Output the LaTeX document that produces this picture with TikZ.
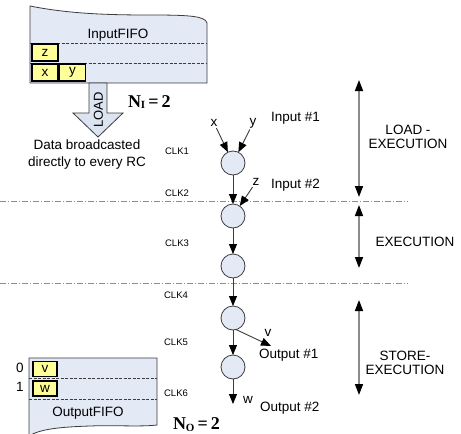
\documentclass[tikz,border=0pt]{standalone}
\usepackage{fontspec}
\setmainfont{Liberation Sans}
\newfontfamily\numfont{Liberation Serif}
\usetikzlibrary{arrows.meta}
\definecolor{fifofill}{HTML}{E3E9F5}
\definecolor{loadfill}{HTML}{DCE4F1}
\definecolor{cellfill}{HTML}{FFFF99}
\definecolor{wire}{HTML}{3C3C3C}
\definecolor{rulecol}{HTML}{8C8C8C}
\begin{document}
\begin{tikzpicture}[x=1pt,y=-1pt,
  every node/.style={inner sep=0pt, outer sep=0pt},
  txt/.style={font=\fontsize{13.5}{14}\selectfont},
  clk/.style={font=\fontsize{9.5}{10}\selectfont},
  lbl/.style={font=\fontsize{13.5}{14}\selectfont, outer sep=1.5pt},
  fifo/.style={draw=wire, fill=fifofill, line width=0.8pt},
  slot/.style={draw=wire, line width=0.6pt, dash pattern=on 3pt off 1.5pt},
  cell/.style={draw=black, fill=cellfill, line width=1.4pt, minimum width=24pt,
    minimum height=15pt, font=\fontsize{13.5}{14}\selectfont},
  rc/.style={circle, draw=wire, fill=fifofill, line width=0.8pt, minimum size=24pt},
  flow/.style={draw=wire, line width=0.9pt,
    -{Triangle[length=10pt,width=8pt,color=black]}},
  span/.style={draw=rulecol, line width=1.6pt,
    {Triangle[length=11pt,width=8pt,color=black]}-{Triangle[length=11pt,width=8pt,color=black]}},
  phase/.style={draw=rulecol, line width=0.8pt, dash pattern=on 6pt off 2pt on 1pt off 2pt},
  big/.style={font=\numfont\bfseries\fontsize{18}{18}\selectfont}
]
\useasboundingbox[fill=white] (0,0) rectangle (461,434);

% input FIFO
\path[fifo] (30,6) .. controls (70,14) and (110,15) .. (150,15)
  .. controls (190,15) and (205,16) .. (207,23) -- (207,83) -- (30,83) -- cycle;
\draw[slot] (30,43) -- (207,43);
\draw[slot] (30,63) -- (207,63);
\node[txt] (infifo) at (118,35) {InputFIFO};
\node[cell, minimum width=26pt, minimum height=17pt] (cz) at (45,52.5) {z};
\node[cell, minimum width=26pt, minimum height=17pt] (cx) at (45,72.5) {x};
\node[cell, minimum width=26pt, minimum height=17pt] (cy) at (72.5,72.5) {y};

% LOAD arrow
\path[fifo, fill=loadfill] (89,83) -- (107,83) -- (107,113) -- (123,113)
  -- (98,137) -- (73,113) -- (89,113) -- cycle;
\node[font=\fontsize{13}{13}\selectfont, rotate=90] (load) at (98.5,110) {LOAD};
\node[big, anchor=base west] (ni) at (128,107)
  {N\raisebox{-0.2ex}{\fontsize{11}{11}\selectfont I}\kern3pt=\kern3pt2};
\node[font=\fontsize{13.5}{17}\selectfont, align=center] (bcast) at (87,155)
  {Data broadcasted\\directly to every RC};

% output FIFO
\path[fifo] (29,358) -- (157,358) -- (157,425)
  .. controls (140,427) and (115,425) .. (90,426)
  .. controls (60,427) and (40,429) .. (29,436) -- cycle;
\draw[slot] (29,378) -- (157,378);
\draw[slot] (29,399) -- (157,399);
\node[txt] (outfifo) at (88,413) {OutputFIFO};
\node[cell] (cv) at (45,369) {v};
\node[cell] (cw) at (45,388.5) {w};
\node[txt] (i0) at (20,368) {0};
\node[txt] (i1) at (20,387) {1};
\node[big, anchor=base west] (no) at (173,429.5)
  {N\raisebox{-0.2ex}{\fontsize{11}{11}\selectfont O}\kern3pt=\kern3pt2};

% clock boundaries
\draw[phase] (0,201) -- (408,201);
\draw[phase] (0,283) -- (408,283);
\node[clk] (k1) at (177,151) {CLK1};
\node[clk] (k2) at (177,193) {CLK2};
\node[clk] (k3) at (177,243) {CLK3};
\node[clk] (k4) at (176,295) {CLK4};
\node[clk] (k5) at (176,342) {CLK5};
\node[clk] (k6) at (176,393) {CLK6};

% reconfigurable cells
\node[rc] (c1) at (233,163) {};
\node[rc] (c2) at (233,216) {};
\node[rc] (c3) at (233,266) {};
\node[rc] (c4) at (233,318) {};
\node[rc] (c5) at (233,367) {};

% operands and results
\node[lbl] (lx) at (214,123) {x};
\node[lbl] (ly) at (253,123) {y};
\node[lbl] (lz) at (256,182) {z};
\node[txt, anchor=west] (in1) at (271,118) {Input \#1};
\node[txt, anchor=west] (in2) at (271,185) {Input \#2};
\node[txt] (lv) at (268,333) {v};
\node[txt] (lw) at (248,400) {w};
\node[txt, anchor=west] (out1) at (259,355) {Output \#1};
\node[txt, anchor=west] (out2) at (260,408) {Output \#2};
\coordinate (vend) at (271,346);
\coordinate (wend) at (233,404);

\draw[flow] (lx) -- (c1);
\draw[flow] (ly) -- (c1);
\draw[flow] (lz) -- (c2);
\draw[flow] (c1) -- (c2);
\draw[flow] (c2) -- (c3);
\draw[flow] (c3) -- (c4);
\draw[flow] (c4) -- (c5);
\draw[flow] (c4.-75) -- (vend);
\draw[flow] (c5) -- (wend);

% phase spans
\coordinate (s1a) at (359,80);
\coordinate (s1b) at (359,197);
\coordinate (s2a) at (359,205);
\coordinate (s2b) at (359,268);
\coordinate (s3a) at (359,300);
\coordinate (s3b) at (359,395);
\draw[span] (s1a) -- (s1b);
\draw[span] (s2a) -- (s2b);
\draw[span] (s3a) -- (s3b);
\node[font=\fontsize{13.5}{14}\selectfont, align=center] (ph1) at (408,137)
  {LOAD -\\EXECUTION};
\node[txt] (ph2) at (415,242) {EXECUTION};
\node[font=\fontsize{13.5}{14}\selectfont, align=center] (ph3) at (405,363)
  {STORE-\\EXECUTION};
\end{tikzpicture}
\end{document}
